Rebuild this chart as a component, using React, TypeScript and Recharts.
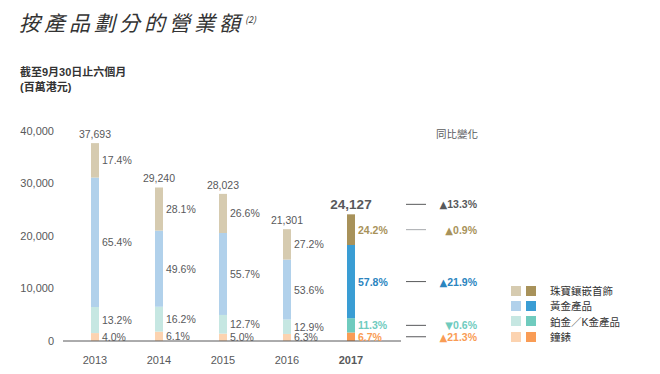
import React from 'react';
import { BarChart, Bar, XAxis, YAxis, Cell, LabelList } from 'recharts';

const years = ['2013', '2014', '2015', '2016', '2017'];
const totals = [37693, 29240, 28023, 21301, 24127];
const watches = [1508, 1784, 1401, 1342, 1617];
const platinum = [4975, 4737, 3559, 2748, 2726];
const gold = [24651, 14503, 15609, 11417, 13945];
const jewellery = [6559, 8216, 7454, 5794, 5839];
const watchesPct = ['4.0%', '6.1%', '5.0%', '6.3%', '6.7%'];
const platinumPct = ['13.2%', '16.2%', '12.7%', '12.9%', '11.3%'];
const goldPct = ['65.4%', '49.6%', '55.7%', '53.6%', '57.8%'];
const jewelleryPct = ['17.4%', '28.1%', '26.6%', '27.2%', '24.2%'];
const seriesNames = ['珠寶鑲嵌首飾', '黃金產品', '鉑金／K金產品', '鐘錶'];
const yoyTotal = '▲13.3%';
const yoySeries = ['▲0.9%', '▲21.9%', '▼0.6%', '▲21.3%'];
const yTicks = [0, 10000, 20000, 30000, 40000];

const data = years.map((y, i) => ({
  year: y,
  watches: watches[i],
  platinum: platinum[i],
  gold: gold[i],
  jewellery: jewellery[i],
}));

const FONT = '"Liberation Sans", Arial, "Noto Sans CJK TC", sans-serif';
const GREY = '#58595b';
const LIGHT = ['#d6cbb0', '#b1d1eb', '#c6e7e2', '#fcd3b0'];
const DARK = ['#a8925a', '#3a9dd4', '#6fcbbe', '#f99c55'];
const LABEL_DARK = ['#a8925a', '#2b85bf', '#6fcbbe', '#f99c55'];
const LINE_COL = ['#a7a9ac', '#58595b', '#58595b', '#58595b'];
const LAST = years.length - 1;

const YoyText = ({ x, y, text, fill }: { x: number; y: number; text: string; fill: string }) => (
  <text
    x={x}
    y={y}
    textAnchor="end"
    dominantBaseline="central"
    fontSize={10.5}
    fontFamily={FONT}
    fontWeight={700}
    fill={fill}
  >
    <tspan fontFamily='"DejaVu Sans", sans-serif' fontSize={10} fontWeight={400}>
      {text.slice(0, 1)}
    </tspan>
    <tspan>{text.slice(1)}</tspan>
  </text>
);

const makePctLabel = (pcts: string[], s: number) => (props: any) => {
  const { x, y, width, height, index } = props;
  const last = index === LAST;
  const cy = Number(y) + Number(height) / 2;
  const right = Number(x) + Number(width);
  return (
    <g>
      <text
        x={right + 3}
        y={cy}
        dominantBaseline="central"
        fontSize={10.5}
        fontFamily={FONT}
        fontWeight={last ? 700 : 400}
        fill={last ? LABEL_DARK[s] : GREY}
      >
        {pcts[index]}
      </text>
      {last && (
        <g>
          <line x1={right + 51} x2={right + 71} y1={cy} y2={cy} stroke={LINE_COL[s]} strokeWidth={1} />
          <YoyText x={right + 122} y={cy} text={yoySeries[s]} fill={LABEL_DARK[s]} />
        </g>
      )}
    </g>
  );
};

const TotalLabel = (props: any) => {
  const { x, y, width, index } = props;
  const last = index === LAST;
  const cx = Number(x) + Number(width) / 2;
  const ty = Number(y) - (last ? 10 : 9);
  const right = Number(x) + Number(width);
  return (
    <g>
      <text
        x={cx}
        y={ty}
        textAnchor="middle"
        dominantBaseline="central"
        fontSize={last ? 13.5 : 10.5}
        fontWeight={last ? 700 : 400}
        fontFamily={FONT}
        fill={GREY}
      >
        {totals[index].toLocaleString('en-US')}
      </text>
      {last && (
        <g>
          <line x1={right + 51} x2={right + 71} y1={ty} y2={ty} stroke={GREY} strokeWidth={1} />
          <YoyText x={right + 122} y={ty} text={yoyTotal} fill={GREY} />
        </g>
      )}
    </g>
  );
};

const XTick = (props: any) => {
  const { x, y, payload } = props;
  const last = payload.value === years[LAST];
  return (
    <text
      x={x}
      y={y}
      dy="0.71em"
      textAnchor="middle"
      fontSize={11}
      fontFamily={FONT}
      fontWeight={last ? 700 : 400}
      fill={GREY}
    >
      {payload.value}
    </text>
  );
};

const keys = ['jewellery', 'gold', 'platinum', 'watches'];
const pctArrays = [jewelleryPct, goldPct, platinumPct, watchesPct];

export default function App() {
  const order = [3, 2, 1, 0];
  return (
    <div style={{ position: 'absolute', left: 0, top: 0, width: 660, height: 374, background: '#fff', fontFamily: FONT }}>
      <div
        style={{
          position: 'absolute',
          left: 19,
          top: 9,
          fontSize: 21,
          lineHeight: '22px',
          fontStyle: 'italic',
          letterSpacing: 4.0,
          color: '#333',
          fontFamily: '"Noto Sans CJK TC", sans-serif',
          whiteSpace: 'nowrap',
        }}
      >
        按產品劃分的營業額
        <sup style={{ fontSize: 9, letterSpacing: 0, marginLeft: 1, verticalAlign: 8 }}>(2)</sup>
      </div>
      <div
        style={{
          position: 'absolute',
          left: 20,
          top: 65,
          fontSize: 11,
          lineHeight: '15px',
          fontWeight: 700,
          color: '#333',
          whiteSpace: 'nowrap',
        }}
      >
        截至9月30日止六個月
        <br />
        (百萬港元)
      </div>
      <div
        style={{
          position: 'absolute',
          left: 436,
          top: 126,
          fontSize: 10.5,
          color: GREY,
          fontFamily: '"Noto Sans CJK TC", sans-serif',
          whiteSpace: 'nowrap',
        }}
      >
        同比變化
      </div>
      <div style={{ position: 'absolute', left: 511, top: 283, fontSize: 10.5, color: '#333', zIndex: 2 }}>
        {seriesNames.map((n, i) => (
          <div key={n} style={{ display: 'flex', alignItems: 'center', height: 15.3 }}>
            <span style={{ width: 10, height: 10, background: LIGHT[i], display: 'inline-block' }} />
            <span style={{ width: 10, height: 10, background: DARK[i], display: 'inline-block', marginLeft: 5 }} />
            <span style={{ marginLeft: 14, whiteSpace: 'nowrap' }}>{n}</span>
          </div>
        ))}
      </div>
      <BarChart
        width={660}
        height={374}
        data={data}
        margin={{ top: 131, left: 13, right: 259, bottom: 0 }}
        barSize={8}
      >
        <XAxis
          dataKey="year"
          axisLine={{ stroke: '#58595b', strokeWidth: 1 }}
          tickLine={false}
          tickMargin={9}
          tick={<XTick />}
          padding={{ left: 0, right: 18 }}
          height={33}
        />
        <YAxis
          width={50}
          domain={[0, 40000]}
          ticks={yTicks}
          axisLine={false}
          tickLine={false}
          tickMargin={3}
          tickFormatter={(v: number) => v.toLocaleString('en-US')}
          tick={{ fontSize: 11, fill: GREY, fontFamily: FONT }}
        />
        {order.map((s) => (
          <Bar key={keys[s]} dataKey={keys[s]} stackId="a" fill={LIGHT[s]} isAnimationActive={false}>
            {data.map((_, i) => (
              <Cell key={i} fill={i === LAST ? DARK[s] : LIGHT[s]} />
            ))}
            <LabelList dataKey={keys[s]} content={makePctLabel(pctArrays[s], s)} />
            {s === 0 && <LabelList dataKey={keys[s]} content={TotalLabel} />}
          </Bar>
        ))}
      </BarChart>
    </div>
  );
}
